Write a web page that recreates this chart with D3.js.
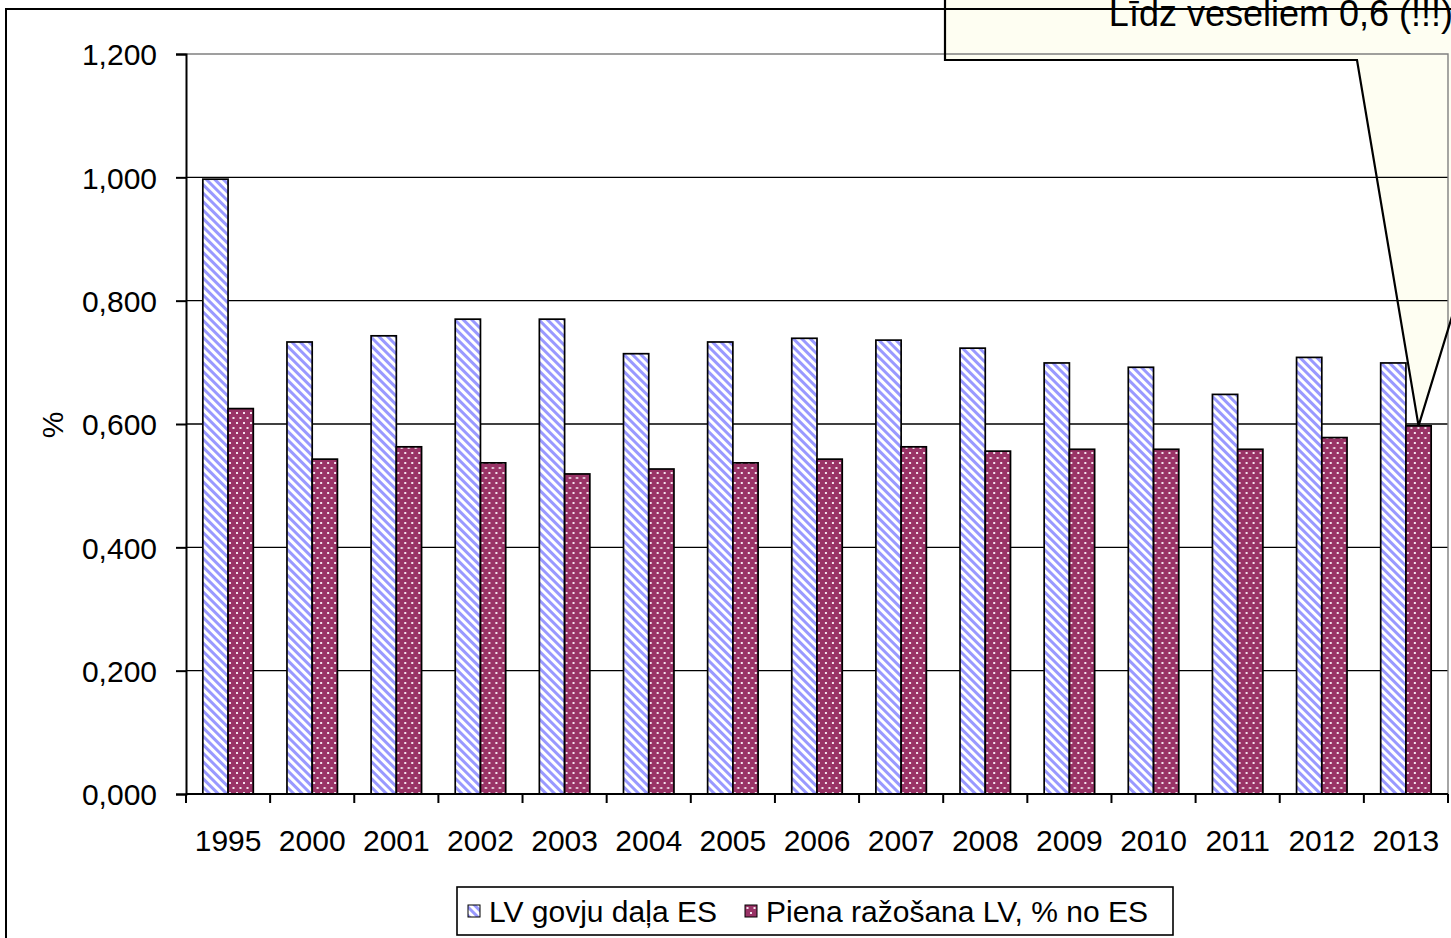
<!DOCTYPE html>
<html>
<head>
<meta charset="utf-8">
<script src="https://cdn.jsdelivr.net/npm/d3@7"></script>
<style>
  html, body { margin: 0; padding: 0; background: #fff; }
  svg { display: block; font-family: "Liberation Sans", Arial, sans-serif; }
</style>
</head>
<body>
<svg id="chart" width="1451" height="938"></svg>
<script>
// ---- data ----
const years = ["1995","2000","2001","2002","2003","2004","2005","2006","2007","2008","2009","2010","2011","2012","2013"];
const lvCattleShare = [0.997, 0.733, 0.743, 0.770, 0.770, 0.714, 0.733, 0.739, 0.736, 0.723, 0.699, 0.692, 0.648, 0.708, 0.699];
const milkProdShare = [0.625, 0.543, 0.563, 0.537, 0.519, 0.527, 0.537, 0.543, 0.563, 0.556, 0.559, 0.559, 0.559, 0.578, 0.597];
const seriesNames = ["LV govju daļa ES", "Piena ražošana LV, % no ES"];
const yTickValues = [0, 0.2, 0.4, 0.6, 0.8, 1.0, 1.2];
const yTickLabels = ["0,000", "0,200", "0,400", "0,600", "0,800", "1,000", "1,200"];
const yAxisTitle = "%";
const calloutText = "Līdz veseliem 0,6 (!!!)";

// ---- layout ----
const svg = d3.select("#chart");
const plot = { left: 186, right: 1448, top: 54, bottom: 794 };
const FONT = 30;

const x = d3.scaleBand().domain(years).range([plot.left, plot.right]).paddingInner(0).paddingOuter(0);
const bw = x.bandwidth();
const xs = d3.scaleBand().domain([0, 1]).range([bw * 0.2, bw * 0.8]).padding(0);
const y = d3.scaleLinear().domain([0, 1.2]).range([plot.bottom, plot.top]);

// ---- patterns ----
const defs = svg.append("defs");
const pStripe = defs.append("pattern")
  .attr("id", "stripes").attr("patternUnits", "userSpaceOnUse")
  .attr("width", 6).attr("height", 6)
  .attr("patternTransform", "rotate(-45)");
pStripe.append("rect").attr("width", 6).attr("height", 6).attr("fill", "#ffffff");
pStripe.append("rect").attr("width", 3).attr("height", 6).attr("fill", "#9999ff");

const pDots = defs.append("pattern")
  .attr("id", "dots").attr("patternUnits", "userSpaceOnUse")
  .attr("width", 7).attr("height", 10);
pDots.append("rect").attr("width", 7).attr("height", 10).attr("fill", "#993366");
pDots.append("rect").attr("x", 1).attr("y", 2).attr("width", 2).attr("height", 2).attr("fill", "#f4e4ee");
pDots.append("rect").attr("x", 4.5).attr("y", 7).attr("width", 2).attr("height", 2).attr("fill", "#f4e4ee");

const fills = ["url(#stripes)", "url(#dots)"];
const seriesData = [lvCattleShare, milkProdShare];

// ---- callout geometry (tip derived from data) ----
const tipIdx = years.length - 1;
const tipX = x(years[tipIdx]) + xs(1) + xs.bandwidth() / 2;
const tipY = y(milkProdShare[tipIdx]);
const boxLeft = 945, boxBottom = 60, boxTop = -30, boxRight = 1640;
const baseL = 1357;
// right pointer edge: line through tip and (1450,323) extended to box bottom
const slopeR = (1450 - tipX) / (323 - tipY);
const baseRx = tipX + slopeR * (boxBottom - tipY);
const calloutPts = [[boxLeft, boxTop], [boxLeft, boxBottom], [baseL, boxBottom], [tipX, tipY],
  [baseRx, boxBottom], [boxRight, boxBottom], [boxRight, boxTop]];
const line = d3.line();

// callout fill (under the chart elements)
svg.append("path").attr("d", line(calloutPts) + "Z").attr("fill", "#fefef2").attr("stroke", "none");
svg.append("text").attr("x", 1453).attr("y", 26).attr("text-anchor", "end")
  .attr("font-size", 36).attr("fill", "#000").text(calloutText);

// ---- gridlines ----
svg.append("g").selectAll("line").data(yTickValues.filter(v => v > 0 && v < 1.2)).join("line")
  .attr("x1", plot.left).attr("x2", plot.right)
  .attr("y1", d => y(d)).attr("y2", d => y(d))
  .attr("stroke", "#000").attr("stroke-width", 1.4);
// plot area border (top & right) gray
svg.append("path")
  .attr("d", `M${plot.left},${y(1.2)}H${plot.right}V${plot.bottom}`)
  .attr("fill", "none").attr("stroke", "#808080").attr("stroke-width", 1.4);

// ---- bars ----
const groups = svg.append("g").selectAll("g").data(years).join("g")
  .attr("transform", d => `translate(${x(d)},0)`);
groups.selectAll("rect").data((d, i) => seriesData.map((s, k) => ({ k, v: s[i] }))).join("rect")
  .attr("x", d => xs(d.k))
  .attr("width", xs.bandwidth())
  .attr("y", d => y(d.v))
  .attr("height", d => y(0) - y(d.v))
  .attr("fill", d => fills[d.k])
  .attr("stroke", "#000").attr("stroke-width", 1.7);

// ---- axes ----
const yAxis = d3.axisLeft(y).tickValues(yTickValues)
  .tickFormat((d, i) => yTickLabels[i]).tickSize(10).tickPadding(19);
const gy = svg.append("g").attr("transform", `translate(${plot.left},0)`).call(yAxis);
gy.select(".domain").attr("stroke", "#000").attr("stroke-width", 2);
gy.selectAll(".tick line").attr("stroke", "#000").attr("stroke-width", 2);
gy.selectAll(".tick text").attr("font-size", FONT).attr("font-family", "Liberation Sans, Arial, sans-serif")
  .attr("fill", "#000").attr("dy", "0.36em");

const xAxis = d3.axisBottom(x).tickSize(0).tickPadding(57);
const gx = svg.append("g").attr("transform", `translate(0,${plot.bottom})`).call(xAxis);
gx.select(".domain").remove();
gx.selectAll(".tick text").attr("font-size", FONT).attr("font-family", "Liberation Sans, Arial, sans-serif")
  .attr("fill", "#000").attr("dy", "0");
svg.append("line").attr("x1", plot.left).attr("x2", plot.right)
  .attr("y1", plot.bottom).attr("y2", plot.bottom).attr("stroke", "#000").attr("stroke-width", 2);
// category boundary ticks
const bounds = years.map(d => x(d)).concat([plot.right]);
svg.append("g").selectAll("line").data(bounds).join("line")
  .attr("x1", d => d).attr("x2", d => d)
  .attr("y1", plot.bottom).attr("y2", plot.bottom + 9)
  .attr("stroke", "#000").attr("stroke-width", 2);

// y axis title
svg.append("text").attr("transform", "translate(63,425) rotate(-90)")
  .attr("text-anchor", "middle").attr("font-size", FONT).attr("fill", "#000").text(yAxisTitle);

// ---- callout outline (over bars) ----
svg.append("path").attr("d", line(calloutPts))
  .attr("fill", "none").attr("stroke", "#000").attr("stroke-width", 2.2).attr("stroke-linejoin", "miter");

// ---- legend ----
const lg = svg.append("g");
lg.append("rect").attr("x", 457).attr("y", 887).attr("width", 716).attr("height", 48)
  .attr("fill", "#fff").attr("stroke", "#000").attr("stroke-width", 1.6);
const legendItems = [{ sx: 468, tx: 489 }, { sx: 745, tx: 766 }];
legendItems.forEach((it, k) => {
  lg.append("rect").attr("x", it.sx).attr("y", 905).attr("width", 12).attr("height", 12)
    .attr("fill", fills[k]).attr("stroke", "#000").attr("stroke-width", 1);
  lg.append("text").attr("x", it.tx).attr("y", 922).attr("font-size", FONT).attr("fill", "#000")
    .text(seriesNames[k]);
});

// ---- outer chart border ----
svg.append("rect").attr("x", 6).attr("y", 9).attr("width", 1600).attr("height", 1100)
  .attr("fill", "none").attr("stroke", "#000").attr("stroke-width", 2);
</script>
</body>
</html>
